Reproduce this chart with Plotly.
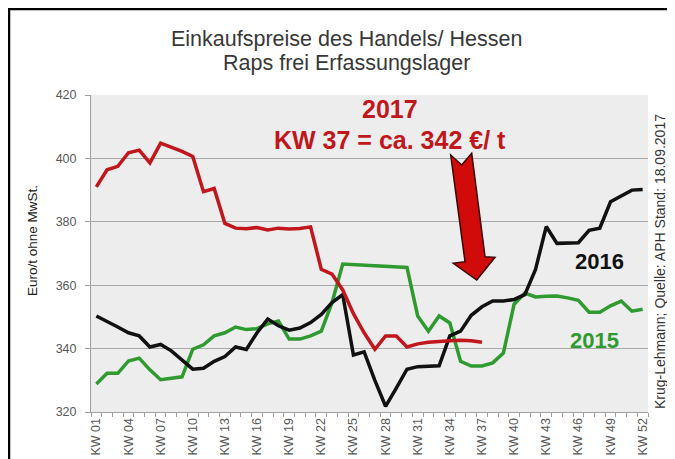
import plotly.graph_objects as go

# ---------------- data ----------------
weeks = [f"KW {i:02d}" for i in range(1, 53)]
tick_labels = [w if (i % 3 == 0) else "" for i, w in enumerate(weeks)]

price_2017 = [391.0, 396.4, 397.5, 401.8, 402.6, 398.6, 404.8, 403.6, 402.2, 400.6,
              389.5, 390.5, 379.5, 378.0, 377.8, 378.2, 377.4, 378.0, 377.7, 377.9,
              378.4, 365.0, 363.5, 358.5, 351.0, 345.0, 339.8, 344.0, 344.0, 340.5,
              341.5, 342.0, 342.3, 342.5, 342.6, 342.5, 342.0]

price_2016 = [350.3, 348.7, 346.8, 345.0, 344.0, 340.5, 341.3, 339.3, 336.5, 333.5,
              333.8, 336.0, 337.5, 340.5, 339.7, 345.0, 349.3, 347.2, 345.8, 346.5,
              348.2, 350.8, 354.5, 357.0, 338.0, 339.0, 330.0, 321.8, 327.5, 333.5,
              334.3, 334.5, 334.6, 344.0, 345.5, 350.5, 353.2, 355.0, 355.0, 355.5,
              357.0, 365.0, 378.5, 373.2, 373.2, 373.4, 377.3, 378.0, 386.3, 388.0,
              390.0, 390.2]

price_2015 = [328.8, 332.2, 332.2, 336.1, 337.0, 333.3, 330.2, 330.6, 331.1, 339.8,
              341.2, 344.0, 345.0, 346.8, 346.0, 346.3, 347.8, 348.7, 343.0, 343.0,
              344.0, 345.5, 354.5, 366.7, 366.5, 366.3, 366.2, 366.0, 365.8, 365.6,
              350.3, 345.5, 350.3, 348.1, 336.0, 334.5, 334.5, 335.5, 338.6, 354.0,
              357.5, 356.3, 356.5, 356.6, 356.0, 355.2, 351.5, 351.5, 353.5, 355.0,
              351.8, 352.4]

# ---------------- layout constants (page pixels, page has 8px body margin) ----------------
OFF = 8
PAGE_W, PAGE_H = 675, 459
W, H = PAGE_W - 2 * OFF, PAGE_H - OFF
PL, PR, PT, PB = 91, 648, 95, 412          # plot area edges in page pixels
ML, MT = PL - OFF, PT - OFF
MR, MB = (OFF + W) - PR, (OFF + H) - PB
PW, PH = PR - PL, PB - PT


def px_x(px):
    return (px - PL) / PW


def px_y(py):
    return (PB - py) / PH


FONT = "Liberation Sans, Arial, sans-serif"
RED = "#c0161c"
GREEN = "#2f9a2f"
BLACK = "#111111"

fig = go.Figure()
fig.add_trace(go.Scatter(x=weeks, y=price_2015, mode="lines",
                         line=dict(color=GREEN, width=3.5), name="2015"))
fig.add_trace(go.Scatter(x=weeks, y=price_2016, mode="lines",
                         line=dict(color=BLACK, width=3.5), name="2016"))
fig.add_trace(go.Scatter(x=weeks[:len(price_2017)], y=price_2017, mode="lines",
                         line=dict(color=RED, width=3.5), name="2017"))

annotations = [
    dict(text="Einkaufspreise des Handels/ Hessen", xref="paper", yref="paper",
         x=px_x(346), y=px_y(39), showarrow=False, xanchor="center", yanchor="middle",
         font=dict(family=FONT, size=21.5, color="#383838")),
    dict(text="Raps frei Erfassungslager", xref="paper", yref="paper",
         x=px_x(346), y=px_y(63), showarrow=False, xanchor="center", yanchor="middle",
         font=dict(family=FONT, size=21.5, color="#383838")),
    dict(text="Euro/t ohne MwSt.", xref="paper", yref="paper", textangle=-90,
         x=px_x(32), y=px_y(241), showarrow=False, xanchor="center", yanchor="middle",
         font=dict(family=FONT, size=13.5, color="#222222")),
    dict(text="Krug-Lehmann; Quelle: APH Stand: 18.09.2017", xref="paper", yref="paper",
         textangle=-90, x=px_x(660), y=px_y(262), showarrow=False,
         xanchor="center", yanchor="middle",
         font=dict(family=FONT, size=14, color="#333333")),
    dict(text="<b>2017</b>", xref="x", yref="y", x=27.4, y=415.6, showarrow=False,
         xanchor="center", yanchor="middle", font=dict(family=FONT, size=25, color=RED)),
    dict(text="<b>KW 37 = ca. 342 €/ t</b>", xref="x", yref="y", x=27.4, y=405.8,
         showarrow=False, xanchor="center", yanchor="middle",
         font=dict(family=FONT, size=25, color=RED)),
    dict(text="<b>2016</b>", xref="x", yref="y", x=46.95, y=367.6, showarrow=False,
         xanchor="center", yanchor="middle", font=dict(family=FONT, size=22, color=BLACK)),
    dict(text="<b>2015</b>", xref="x", yref="y", x=46.5, y=342.4, showarrow=False,
         xanchor="center", yanchor="middle", font=dict(family=FONT, size=22, color=GREEN)),
]

arrow_pts = [(450.7, 155), (461.7, 165), (471.7, 153.3), (485, 256.7), (495, 257.3),
             (476.7, 280), (453.3, 263.3), (465, 261.7)]
arrow_path = "M " + " L ".join(f"{px_x(a):.4f},{px_y(b):.4f}" for a, b in arrow_pts) + " Z"

shapes = [
    dict(type="path", xref="paper", yref="paper", path=arrow_path,
         fillcolor="#d10a0a", line=dict(color="#3a0505", width=1.5), layer="above"),
    # outer frame (left and top)
    dict(type="line", xref="paper", yref="paper", x0=px_x(9), x1=px_x(9),
         y0=px_y(8), y1=px_y(OFF + H), line=dict(color="black", width=2.5)),
    dict(type="line", xref="paper", yref="paper", x0=px_x(8), x1=px_x(OFF + W),
         y0=px_y(9), y1=px_y(9), line=dict(color="black", width=2.5)),
]

fig.update_layout(
    width=W, height=H,
    margin=dict(l=ML, r=MR, t=MT, b=MB, pad=0),
    paper_bgcolor="white", plot_bgcolor="#ededed",
    showlegend=False,
    font=dict(family=FONT, color="#595959"),
    annotations=annotations, shapes=shapes,
    modebar=dict(bgcolor="rgba(0,0,0,0)", color="rgba(0,0,0,0)",
                 activecolor="rgba(0,0,0,0)"),
    xaxis=dict(type="category", tickmode="array", tickvals=weeks, ticktext=tick_labels,
               tickangle=-90, tickson="boundaries", ticks="outside", ticklen=4,
               tickcolor="#a0a0a0", showline=True, linecolor="#a0a0a0", linewidth=1,
               showgrid=False, zeroline=False, range=[-0.5, 51.5], automargin=False,
               tickfont=dict(family=FONT, size=12.5, color="#595959")),
    yaxis=dict(range=[320, 420], dtick=20, tick0=320, showgrid=True, gridcolor="#a8a8a8",
               gridwidth=1, showline=True, linecolor="#a0a0a0", linewidth=1,
               ticks="outside", ticklen=5, tickcolor="#a0a0a0", zeroline=False,
               ticklabelstandoff=6, automargin=False,
               tickfont=dict(family=FONT, size=12.5, color="#595959")),
)

fig.write_html("out.html")
